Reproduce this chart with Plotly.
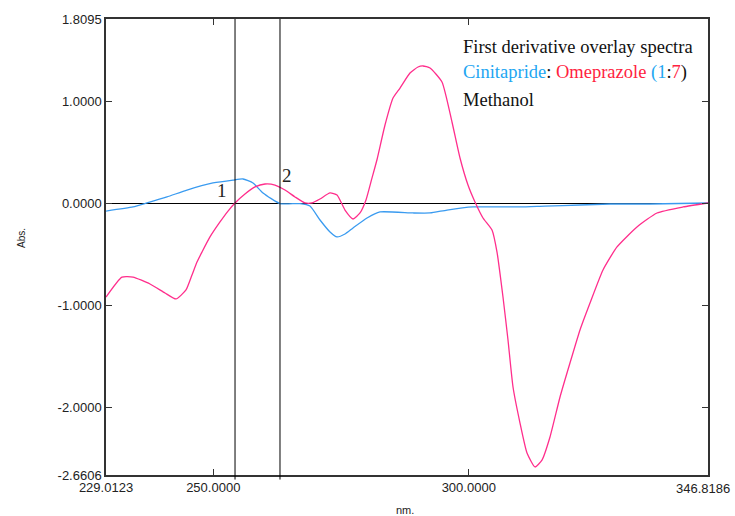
import plotly.graph_objects as go

# Omeprazole (pink) first-derivative spectrum
ome_wl = [229.01, 232.14, 234.30, 237.62, 240.56, 242.71, 244.67, 245.84, 246.82, 247.80,
          249.36, 251.32, 252.89, 254.26, 256.21, 258.17, 260.13, 262.08, 264.04, 266.00,
          267.96, 269.32, 270.89, 272.85, 274.22, 275.78, 277.35, 278.72, 279.89, 281.06,
          282.04, 283.61, 285.18, 286.55, 288.50, 290.07, 291.05, 292.42, 294.76, 296.72,
          298.29, 299.85, 301.22, 302.79, 304.55, 305.53, 306.70, 307.68, 308.66, 310.03,
          311.40, 312.96, 314.33, 315.90, 317.86, 319.81, 321.77, 323.73, 326.27, 329.01,
          332.92, 336.84, 341.93, 346.82]
ome_val = [-0.916, -0.720, -0.720, -0.788, -0.876, -0.935, -0.847, -0.700, -0.573, -0.475,
           -0.327, -0.180, -0.073, 0.006, 0.094, 0.163, 0.192, 0.182, 0.133, 0.065,
           0.006, 0.006, 0.045, 0.104, 0.084, -0.063, -0.151, -0.092, 0.035, 0.250,
           0.430, 0.770, 1.035, 1.133, 1.280, 1.339, 1.349, 1.329, 1.192, 0.800,
           0.447, 0.182, 0.016, -0.141, -0.259, -0.475, -0.916, -1.337, -1.798, -2.151,
           -2.445, -2.582, -2.514, -2.288, -1.896, -1.563, -1.239, -0.975, -0.651, -0.425,
           -0.229, -0.092, -0.033, 0.006]

# Cinitapride (blue) first-derivative spectrum
cin_wl = [229.01, 234.30, 237.04, 240.95, 244.86, 249.95, 253.87, 255.82, 257.78, 259.74,
          263.06, 266.98, 268.93, 270.89, 272.85, 274.22, 275.78, 277.35, 280.09, 282.63,
          289.09, 292.42, 295.74, 300.83, 310.03, 314.92, 321.77, 327.64, 335.47, 346.82]
cin_val = [-0.073, -0.033, 0.006, 0.065, 0.133, 0.202, 0.231, 0.241, 0.202, 0.104,
           0.0, 0.0, -0.024, -0.161, -0.278, -0.327, -0.298, -0.239, -0.141, -0.082,
           -0.092, -0.092, -0.063, -0.033, -0.033, -0.024, -0.014, -0.004, -0.004, 0.006]

x_ticks = [229.0123, 250.0, 300.0, 346.8186]
x_tick_text = ["229.0123", "250.0000", "300.0000", "346.8186"]
y_ticks = [1.8095, 1.0, 0.0, -1.0, -2.0, -2.6606]
y_tick_text = ["1.8095", "1.0000", "0.0000", "-1.0000", "-2.0000", "-2.6606"]
marker_wl = [254.26, 263.06]
marker_labels = ["1", "2"]
marker_label_pos = [(251.7, 0.13), (264.4, 0.28)]

fig = go.Figure()
fig.add_trace(go.Scatter(x=cin_wl, y=cin_val, mode="lines",
                         line=dict(color="#3a9bf0", width=1.3, shape="spline", smoothing=0.5),
                         showlegend=False, hoverinfo="skip"))
fig.add_trace(go.Scatter(x=ome_wl, y=ome_val, mode="lines",
                         line=dict(color="#ff2e8c", width=1.3, shape="spline", smoothing=0.5),
                         showlegend=False, hoverinfo="skip"))

for wl in marker_wl:
    fig.add_shape(type="line", xref="x", yref="paper", x0=wl, x1=wl, y0=-0.01, y1=1,
                  line=dict(color="black", width=1))

serif = "Liberation Serif"
for lab, (lx, ly) in zip(marker_labels, marker_label_pos):
    fig.add_annotation(x=lx, y=ly, text=lab, showarrow=False, xref="x", yref="y",
                       font=dict(family=serif, size=19, color="#222"))

fig.add_annotation(xref="paper", yref="paper", x=0.59, y=0.9386, xanchor="left", yanchor="middle",
                   text="First derivative overlay spectra", showarrow=False,
                   font=dict(family=serif, size=18.5, color="#111"))
fig.add_annotation(xref="paper", yref="paper", x=0.59, y=0.8816, xanchor="left", yanchor="middle",
                   text="<span style='color:#22a6f2'>Cinitapride</span>: "
                        "<span style='color:#ff2240'>Omeprazole</span> "
                        "<span style='color:#22a6f2'>(1</span>:<span style='color:#ff2240'>7</span>)",
                   showarrow=False, font=dict(family=serif, size=18.5, color="#111"))
fig.add_annotation(xref="paper", yref="paper", x=0.59, y=0.8224, xanchor="left", yanchor="middle",
                   text="Methanol", showarrow=False, font=dict(family=serif, size=18.5, color="#111"))

fig.add_annotation(xref="paper", yref="paper", x=-0.1395, y=0.52, xanchor="center", yanchor="middle",
                   text="Abs.", textangle=-90,
                   showarrow=False, font=dict(family="Liberation Sans", size=10, color="#222"))
fig.add_annotation(xref="paper", yref="paper", x=0.497, y=-0.076, xanchor="center", yanchor="middle",
                   text="nm.", showarrow=False,
                   font=dict(family="Liberation Sans", size=11, color="#222"))
# last x tick label sits pulled inside the page edge in the reference
fig.add_annotation(xref="paper", yref="paper", x=1.0399, y=-0.0085, xanchor="right", yanchor="top",
                   text=x_tick_text[-1], showarrow=False,
                   font=dict(family="Liberation Sans", size=13, color="#222"))

fig.update_xaxes(range=[229.0123, 346.8186], tickvals=x_ticks,
                 ticktext=x_tick_text[:-1] + [""],
                 ticks="inside", ticklen=6, tickcolor="#333", mirror="ticks", automargin=False,
                 showline=True, linecolor="#333", linewidth=1.5, showgrid=False, zeroline=False,
                 tickfont=dict(family="Liberation Sans", size=13, color="#222"))
fig.update_yaxes(range=[-2.6606, 1.8095], tickvals=y_ticks, ticktext=y_tick_text,
                 ticks="inside", ticklen=6, tickcolor="#333", mirror="ticks", automargin=False,
                 showline=True, linecolor="#333", linewidth=1.5, showgrid=False,
                 zeroline=True, zerolinecolor="black", zerolinewidth=1.2,
                 tickfont=dict(family="Liberation Sans", size=13, color="#222"))

fig.update_layout(width=735, height=516, margin=dict(l=106, r=27, t=19, b=41),
                  plot_bgcolor="white", paper_bgcolor="white")
fig.write_html("out.html")
